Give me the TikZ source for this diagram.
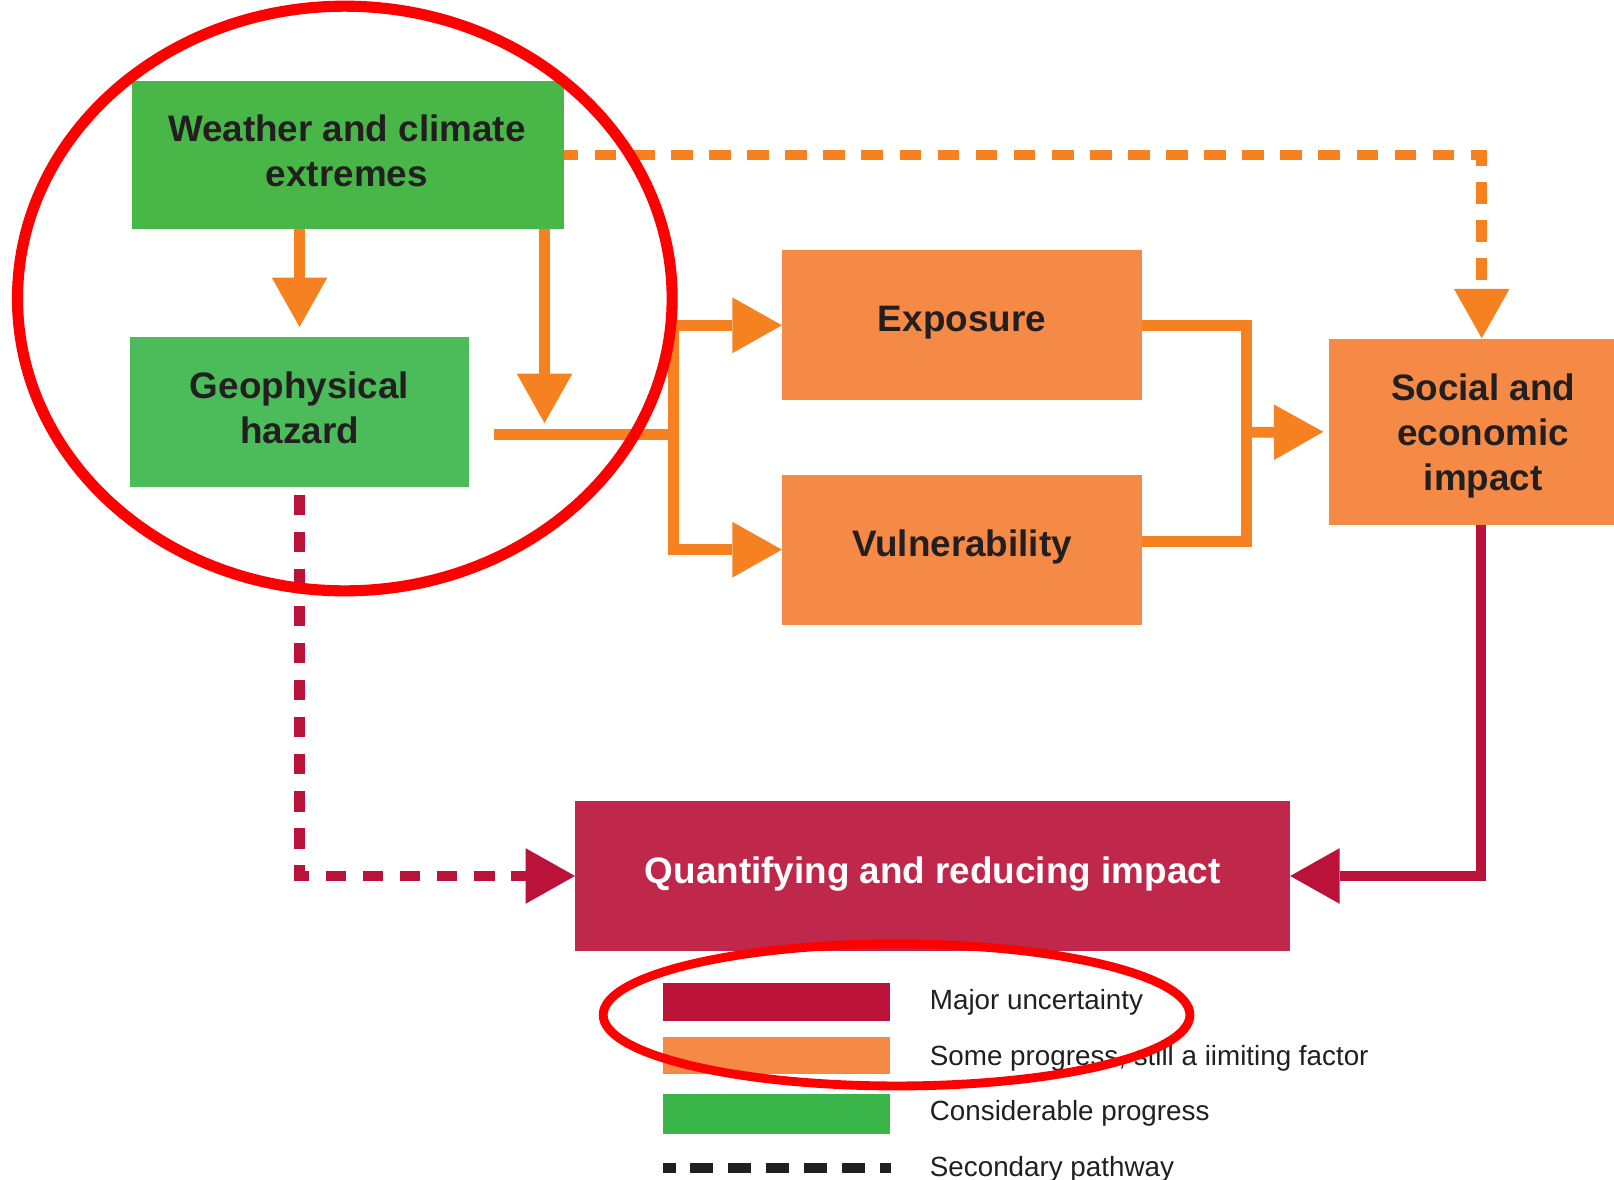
\documentclass[tikz,border=0pt]{standalone}
\usepackage{fontspec}
\setmainfont{Liberation Sans}
\usetikzlibrary{arrows.meta,calc}
\definecolor{gW}{HTML}{48B748}
\definecolor{gG}{HTML}{4CBC5B}
\definecolor{gL}{HTML}{39B54A}
\definecolor{oB}{HTML}{F58946}
\definecolor{oL}{HTML}{F68121}
\definecolor{cB}{HTML}{C0284B}
\definecolor{cL}{HTML}{BA1238}
\definecolor{txt}{HTML}{231F20}
\tikzset{
  box/.style={draw=none, inner sep=0pt},
  btext/.style={inner sep=0pt, align=center, text=txt,
    font=\bfseries\fontsize{17.9pt}{21.75pt}\selectfont},
  oTip/.tip={Triangle[width=27pt,length=24pt,line width=0pt]},
  cTip/.tip={Triangle[width=27pt,length=24pt,line width=0pt]},
  oline/.style={draw=oL, line width=5.2pt, line join=miter},
  odash/.style={draw=oL, line width=5.2pt, dash pattern=on 10.5pt off 8pt, dash phase=3.75pt},
  cline/.style={draw=cL, line width=5pt, line join=miter},
  cdash/.style={draw=cL, line width=5.2pt, dash pattern=on 10pt off 8pt, dash phase=14.5pt},
  legtext/.style={anchor=west, inner sep=0pt, text=txt, font=\fontsize{13.5pt}{16pt}\selectfont},
  redmark/.style={draw=red},
}
\begin{document}
\begin{tikzpicture}[x=0.5pt,y=-0.5pt]
\useasboundingbox (0,0) rectangle (1568,1146);
\fill[white] (0,0) rectangle (1568,1146);

% boxes
\node[box, fill=gW, minimum width=210pt, minimum height=71.5pt] (weather) at (338,150.5) {};
\node[box, fill=gG, minimum width=165pt, minimum height=73pt] (geo) at (291,400) {};
\node[box, fill=oB, minimum width=174.5pt, minimum height=73pt] (expo) at (934.5,316) {};
\node[box, fill=oB, minimum width=174.5pt, minimum height=73pt] (vuln) at (934.5,534) {};
\node[box, fill=oB, minimum width=150pt, minimum height=90.5pt] (social) at (1441,419.5) {};
\node[box, fill=cB, minimum width=347pt, minimum height=73pt] (quant) at (906,851) {};

% box texts
\node[btext] (weatherT) at ($(weather.center)+(-1,-4)$) {Weather and climate\\extremes};
\node[btext] (geoT) at ($(geo.center)+(0,-4)$) {Geophysical\\hazard};
\node[btext] (expoT) at ($(expo.center)+(0,-3)$) {Exposure};
\node[btext] (vulnT) at ($(vuln.center)+(0,-3)$) {Vulnerability};
\node[btext] (socialT) at ($(social.center)+(0,4)$) {Social and\\economic\\impact};
\node[btext, text=white] (quantT) at ($(quant.center)+(0,-2)$) {Quantifying and reducing impact};

% helper coordinates
\coordinate (hs) at (480,422);
\coordinate (hj) at (654,422);
\coordinate (wt) at (529,411);
\coordinate (bx) at (1211,420);
\coordinate (ve) at ($(vuln.east)+(0,-8)$);
\coordinate (sn) at ($(social.north)+(-1.5,0)$);
\coordinate (ss) at ($(social.south)+(-2,0)$);

% orange connectors
\draw[oline,-{oTip}, shorten >=4.5pt] (weather.south -| geo.north) -- (geo.north);
\draw[oline,-{oTip}] (weather.south -| wt) -- (wt);
\draw[oline] (hs) -- (hj);
\draw[oline,{oTip}-{oTip}] (expo.west) -- (expo.west -| hj) -- (vuln.west -| hj) -- (vuln.west);
\draw[oline] (expo.east) -- (expo.east -| bx) -- (ve -| bx) -- (ve);
\draw[oline,-{oTip}, shorten >=2.5pt] (bx) -- (social.west);
\draw[odash,-{oTip}] (weather.east) -| (sn);

% crimson connectors
\draw[cdash,-{cTip}] (geo.south) |- (quant.west);
\draw[cline,-{cTip}] (ss) |- (quant.east);

% legend
\fill[cL] (644,955) rectangle (865,992);
\fill[oB] (644,1007) rectangle (865,1043.5);
\fill[gL] (644,1063) rectangle (865,1101.5);
\foreach \a/\b in {644.4/656.3, 670.8/693.1, 707.6/729.9, 744.4/766.7, 781.2/803.5, 818/840.3, 854.8/865.4}
  \fill[txt] (\a,1130) rectangle (\b,1140);
\node[legtext] (l1) at (903,974) {Major uncertainty};
\node[legtext] (l2) at (903,1028) {Some progress, still a iimiting factor};
\node[legtext] (l3) at (903,1082) {Considerable progress};
\node[legtext] (l4) at (903,1136) {Secondary pathway};

% red annotation ellipses
\draw[redmark, line width=5.4pt] (335,290) ellipse [x radius=159pt, y radius=142pt];
\draw[redmark, line width=4.3pt] (871,986) ellipse [x radius=142.5pt, y radius=34.5pt];
\end{tikzpicture}
\end{document}
